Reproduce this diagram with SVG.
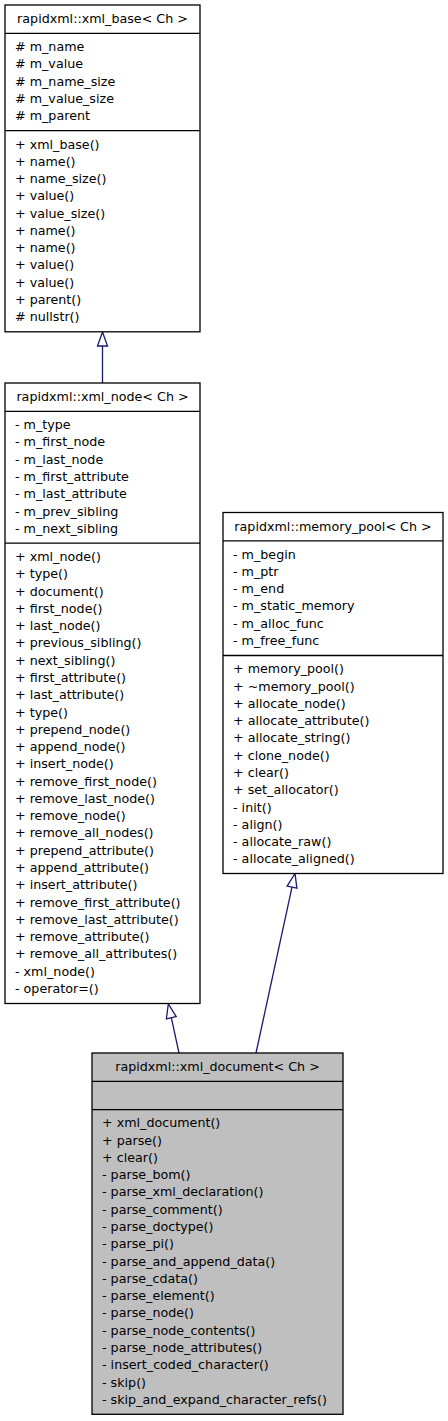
<svg xmlns="http://www.w3.org/2000/svg" width="448" height="1421" viewBox="0 0 448 1421">
<style>
.box{fill:#ffffff;stroke:#000000;stroke-width:1.3}
.doc{fill:#bfbfbf;stroke:#000000;stroke-width:1.3}
.sep{stroke:#000000;stroke-width:1.3}
text{font-family:"DejaVu Sans","Liberation Sans",sans-serif;font-size:12.7px;fill:#000000}
.t{text-anchor:middle}
.edge{stroke:#191970;stroke-width:1.3;fill:none}
.head{fill:#ffffff;stroke:#191970;stroke-width:1.3}
</style>
<rect width="448" height="1421" fill="#ffffff"/>
<g id="connectors">
<line class="edge" x1="102.5" y1="346" x2="102.5" y2="383"/>
<polygon class="head" points="102.5,332 97.5,346 107.5,346"/>
<line class="edge" x1="171.3" y1="1017.7" x2="179" y2="1053"/>
<polygon class="head" points="168.3,1004 166.4,1018.8 176.2,1016.6"/>
<line class="edge" x1="292" y1="887.2" x2="256" y2="1053"/>
<polygon class="head" points="295,873.5 287.1,886.1 296.9,888.2"/>
</g>
<g id="xml_base">
<rect class="box" x="5" y="5" width="195" height="326.8"/>
<line class="sep" x1="5" y1="33.3" x2="200" y2="33.3"/>
<line class="sep" x1="5" y1="130.7" x2="200" y2="130.7"/>
<text class="t" x="102.5" y="23">rapidxml::xml_base&lt; Ch &gt;</text>
<text x="15" y="51.1">
<tspan x="15" dy="0"># m_name</tspan><tspan x="15" dy="17.28"># m_value</tspan><tspan x="15" dy="17.28"># m_name_size</tspan><tspan x="15" dy="17.28"># m_value_size</tspan><tspan x="15" dy="17.28"># m_parent</tspan>
</text>
<text x="15" y="148.5">
<tspan x="15" dy="0">+ xml_base()</tspan><tspan x="15" dy="17.28">+ name()</tspan><tspan x="15" dy="17.28">+ name_size()</tspan><tspan x="15" dy="17.28">+ value()</tspan><tspan x="15" dy="17.28">+ value_size()</tspan><tspan x="15" dy="17.28">+ name()</tspan><tspan x="15" dy="17.28">+ name()</tspan><tspan x="15" dy="17.28">+ value()</tspan><tspan x="15" dy="17.28">+ value()</tspan><tspan x="15" dy="17.28">+ parent()</tspan><tspan x="15" dy="17.28"># nullstr()</tspan>
</text>
</g>
<g id="xml_node">
<rect class="box" x="5" y="383" width="195" height="620.5"/>
<line class="sep" x1="5" y1="411.3" x2="200" y2="411.3"/>
<line class="sep" x1="5" y1="543.2" x2="200" y2="543.2"/>
<text class="t" x="102.5" y="401">rapidxml::xml_node&lt; Ch &gt;</text>
<text x="15" y="429.1">
<tspan x="15" dy="0">- m_type</tspan><tspan x="15" dy="17.28">- m_first_node</tspan><tspan x="15" dy="17.28">- m_last_node</tspan><tspan x="15" dy="17.28">- m_first_attribute</tspan><tspan x="15" dy="17.28">- m_last_attribute</tspan><tspan x="15" dy="17.28">- m_prev_sibling</tspan><tspan x="15" dy="17.28">- m_next_sibling</tspan>
</text>
<text x="15" y="561">
<tspan x="15" dy="0">+ xml_node()</tspan><tspan x="15" dy="17.28">+ type()</tspan><tspan x="15" dy="17.28">+ document()</tspan><tspan x="15" dy="17.28">+ first_node()</tspan><tspan x="15" dy="17.28">+ last_node()</tspan><tspan x="15" dy="17.28">+ previous_sibling()</tspan><tspan x="15" dy="17.28">+ next_sibling()</tspan><tspan x="15" dy="17.28">+ first_attribute()</tspan><tspan x="15" dy="17.28">+ last_attribute()</tspan><tspan x="15" dy="17.28">+ type()</tspan><tspan x="15" dy="17.28">+ prepend_node()</tspan><tspan x="15" dy="17.28">+ append_node()</tspan><tspan x="15" dy="17.28">+ insert_node()</tspan><tspan x="15" dy="17.28">+ remove_first_node()</tspan><tspan x="15" dy="17.28">+ remove_last_node()</tspan><tspan x="15" dy="17.28">+ remove_node()</tspan><tspan x="15" dy="17.28">+ remove_all_nodes()</tspan><tspan x="15" dy="17.28">+ prepend_attribute()</tspan><tspan x="15" dy="17.28">+ append_attribute()</tspan><tspan x="15" dy="17.28">+ insert_attribute()</tspan><tspan x="15" dy="17.28">+ remove_first_attribute()</tspan><tspan x="15" dy="17.28">+ remove_last_attribute()</tspan><tspan x="15" dy="17.28">+ remove_attribute()</tspan><tspan x="15" dy="17.28">+ remove_all_attributes()</tspan><tspan x="15" dy="17.28">- xml_node()</tspan><tspan x="15" dy="17.28">- operator=()</tspan>
</text>
</g>
<g id="memory_pool">
<rect class="box" x="223" y="512.5" width="220" height="361"/>
<line class="sep" x1="223" y1="540.8" x2="443" y2="540.8"/>
<line class="sep" x1="223" y1="655.5" x2="443" y2="655.5"/>
<text class="t" x="333" y="530.5">rapidxml::memory_pool&lt; Ch &gt;</text>
<text x="233" y="558.6">
<tspan x="233" dy="0">- m_begin</tspan><tspan x="233" dy="17.28">- m_ptr</tspan><tspan x="233" dy="17.28">- m_end</tspan><tspan x="233" dy="17.28">- m_static_memory</tspan><tspan x="233" dy="17.28">- m_alloc_func</tspan><tspan x="233" dy="17.28">- m_free_func</tspan>
</text>
<text x="233" y="673.3">
<tspan x="233" dy="0">+ memory_pool()</tspan><tspan x="233" dy="17.28">+ ~memory_pool()</tspan><tspan x="233" dy="17.28">+ allocate_node()</tspan><tspan x="233" dy="17.28">+ allocate_attribute()</tspan><tspan x="233" dy="17.28">+ allocate_string()</tspan><tspan x="233" dy="17.28">+ clone_node()</tspan><tspan x="233" dy="17.28">+ clear()</tspan><tspan x="233" dy="17.28">+ set_allocator()</tspan><tspan x="233" dy="17.28">- init()</tspan><tspan x="233" dy="17.28">- align()</tspan><tspan x="233" dy="17.28">- allocate_raw()</tspan><tspan x="233" dy="17.28">- allocate_aligned()</tspan>
</text>
</g>
<g id="xml_document">
<rect class="doc" x="92" y="1053" width="251" height="361.3"/>
<line class="sep" x1="92" y1="1081.3" x2="343" y2="1081.3"/>
<line class="sep" x1="92" y1="1109.6" x2="343" y2="1109.6"/>
<text class="t" x="217.5" y="1071">rapidxml::xml_document&lt; Ch &gt;</text>
<text x="102" y="1127.3">
<tspan x="102" dy="0">+ xml_document()</tspan><tspan x="102" dy="17.28">+ parse()</tspan><tspan x="102" dy="17.28">+ clear()</tspan><tspan x="102" dy="17.28">- parse_bom()</tspan><tspan x="102" dy="17.28">- parse_xml_declaration()</tspan><tspan x="102" dy="17.28">- parse_comment()</tspan><tspan x="102" dy="17.28">- parse_doctype()</tspan><tspan x="102" dy="17.28">- parse_pi()</tspan><tspan x="102" dy="17.28">- parse_and_append_data()</tspan><tspan x="102" dy="17.28">- parse_cdata()</tspan><tspan x="102" dy="17.28">- parse_element()</tspan><tspan x="102" dy="17.28">- parse_node()</tspan><tspan x="102" dy="17.28">- parse_node_contents()</tspan><tspan x="102" dy="17.28">- parse_node_attributes()</tspan><tspan x="102" dy="17.28">- insert_coded_character()</tspan><tspan x="102" dy="17.28">- skip()</tspan><tspan x="102" dy="17.28">- skip_and_expand_character_refs()</tspan>
</text>
</g>
</svg>
